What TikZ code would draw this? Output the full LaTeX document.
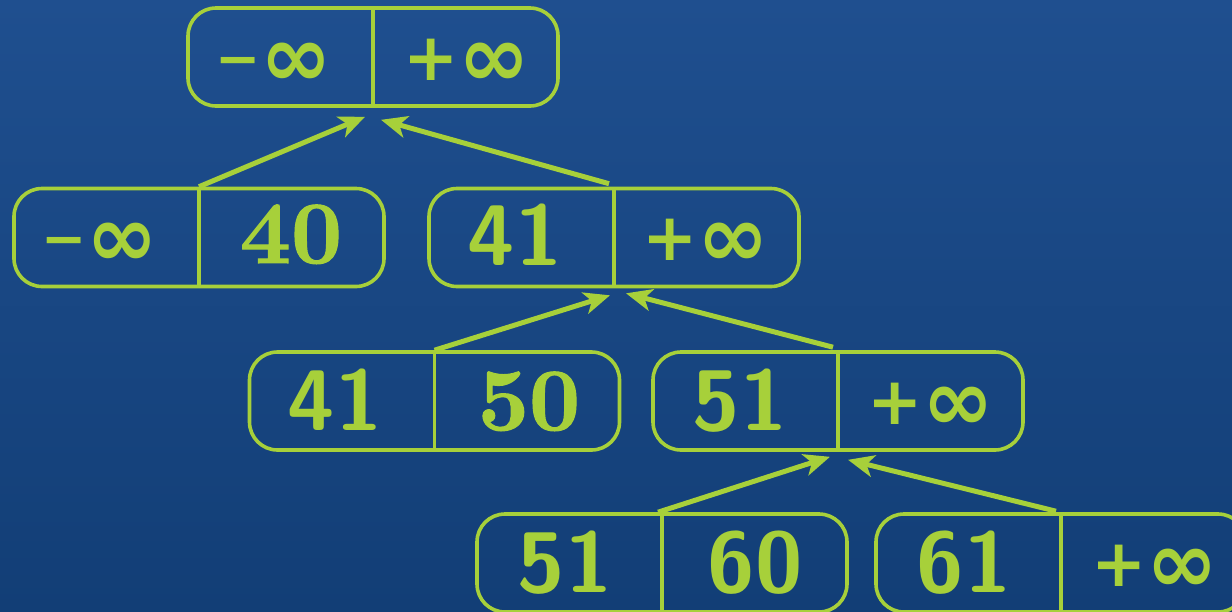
\documentclass[tikz,border=0pt]{standalone}
\usepackage{fontspec}
\newfontfamily\symfont{DejaVu Sans}
\newfontfamily\heavyserif{lmroman10-bold.otf}[FakeBold=1.2]
\usetikzlibrary{arrows.meta}
\definecolor{bgtop}{RGB}{31,79,143}
\definecolor{bgbot}{RGB}{18,62,118}
\definecolor{lime}{RGB}{167,208,58}
\newcommand{\myinf}{{\fontsize{86}{86}\selectfont ∞}}
\newcommand{\myplus}{{\fontsize{66}{66}\selectfont\raisebox{6pt}{+}}}
\newcommand{\myminus}{{\fontsize{54}{54}\selectfont\raisebox{9pt}{−}}}
\tikzset{
  box/.style={draw=lime, line width=3.6pt, rounded corners=28pt, minimum width=370pt, minimum height=98pt, inner sep=0pt},
  sdig/.style={text=lime, font=\fontsize{86}{86}\selectfont\sffamily\bfseries, anchor=base, inner sep=0pt},
  rdig/.style={text=lime, font=\fontsize{89}{89}\selectfont\heavyserif, anchor=base, inner sep=0pt},
  sym/.style={text=lime, font=\symfont\bfseries, anchor=base, inner sep=0pt},
  arr/.style={draw=lime, line width=5pt, -{Stealth[length=26pt,width=22pt,inset=7pt]}},
  divider/.style={draw=lime, line width=3.6pt}
}
\begin{document}
\begin{tikzpicture}[x=1pt,y=-1pt]
\useasboundingbox (0,0) rectangle (1232,611);
\shade[top color=bgtop, bottom color=bgbot] (0,0) rectangle (1232,611);
\clip (0,0) rectangle (1232,611);
% boxes
\node[box] (b1) at (373,57) {};
\node[box] (b2) at (199,237.5) {};
\node[box] (b3) at (614,237.5) {};
\node[box] (b4) at (434.5,401) {};
\node[box] (b5) at (838,401) {};
\node[box] (b6) at (662,563) {};
\node[box] (b7) at (1061,563) {};
\foreach \b in {b1,b2,b3,b4,b5,b6,b7}{
  \draw[divider] ([yshift=-2pt]\b.north) -- ([yshift=3pt]\b.south);
}
% texts
\node[sym] (b1l) at (274,86) {\myminus\myinf};
\node[sym] (b1r) at (467,86) {\myplus\myinf};
\node[sym] (b2l) at (100,266.5) {\myminus\myinf};
\node[rdig] (b2r) at (291,263) {40};
\node[sdig] (b3l) at (515,265) {41};
\node[sym] (b3r) at (706,266.5) {\myplus\myinf};
\node[sdig] (b4l) at (335,430) {41};
\node[rdig] (b4r) at (529,430) {50};
\node[sdig] (b5l) at (740,430) {51};
\node[sym] (b5r) at (931,430) {\myplus\myinf};
\node[sdig] (b6l) at (565,592) {51};
\node[sdig] (b6r) at (755,592) {60};
\node[sdig] (b7l) at (964,592) {61};
\node[sym] (b7r) at (1155,592) {\myplus\myinf};
% arrows
\draw[arr] (b2.north) -- ([shift={(-8,9)}]b1.south);
\draw[arr] ([shift={(-5,-3)}]b3.north) -- ([shift={(8,12)}]b1.south);
\draw[arr] (b4.north) -- ([shift={(-4,7)}]b3.south);
\draw[arr] ([shift={(-5,-3)}]b5.north) -- ([shift={(12,5)}]b3.south);
\draw[arr] ([shift={(-4,0)}]b6.north) -- ([shift={(-8,5)}]b5.south);
\draw[arr] ([shift={(-5,-1)}]b7.north) -- ([shift={(10,8)}]b5.south);
\end{tikzpicture}
\end{document}
